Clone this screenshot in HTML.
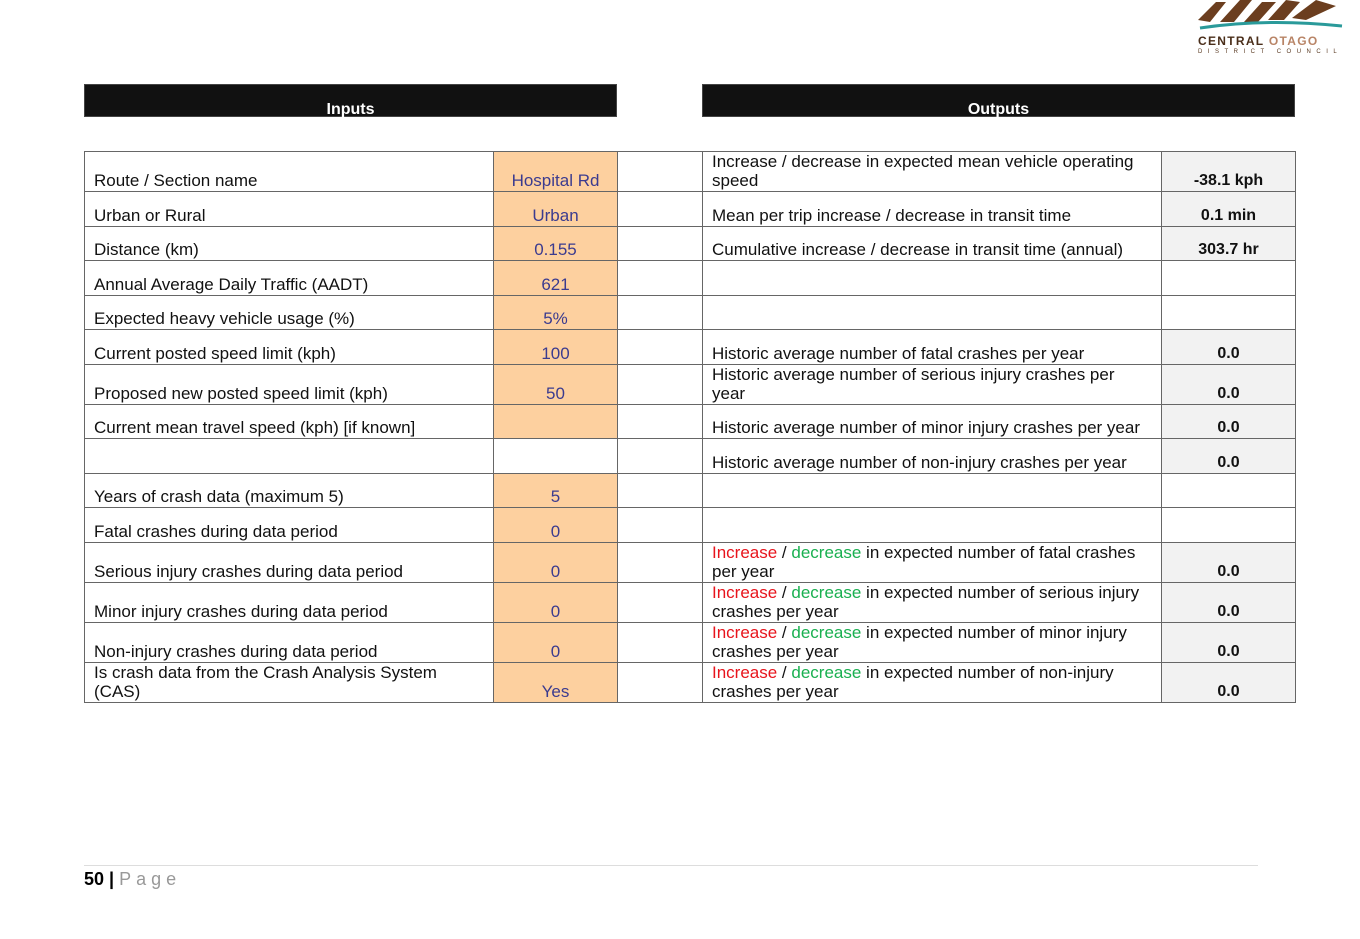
<!DOCTYPE html>
<html><head><meta charset="utf-8"><style>
body{margin:0;width:1360px;height:939px;position:relative;background:#fff;font-family:"Liberation Sans",Arial,sans-serif;overflow:hidden}
.hdr{position:absolute;top:84px;height:33px;background:#111;color:#fff;font-weight:bold;font-size:16px;text-align:center;box-sizing:border-box;border:1px solid #444}
table{position:absolute;left:84px;top:151px;border-collapse:collapse;table-layout:fixed;font-size:17px;color:#111}
td{border:1px solid #666;padding:0 4px 1px 9px;vertical-align:bottom;line-height:19px;box-sizing:border-box;overflow:hidden;white-space:nowrap}
td.o{background:#fdd09f;color:#3b3b8f;text-align:center;padding:0 0 1px 0}
td.v{background:#f2f2f2;text-align:center;font-weight:bold;font-size:16px;padding:0 0 1px 0}
td.w{background:#fff}
.r{color:#e8141c}.g{color:#19b050}
</style></head><body>
<svg style="position:absolute;left:1196px;top:0" width="150" height="56">
<path d="M2 20 L20 2 L30 2 L14 22 Z M24 22 L44 0 L56 0 L38 22 Z M48 22 L66 2 L80 2 L62 22 Z M72 20 L90 0 L104 2 L88 20 Z M96 18 L120 0 L140 6 L110 20 Z" fill="#6b3e1f"/>
<path d="M4 28 Q70 18 146 26" stroke="#2a9a9a" stroke-width="3" fill="none"/>
<text x="2" y="45" font-size="12" font-weight="bold" font-family="Liberation Sans" fill="#4a2e1a" letter-spacing="1.3">CENTRAL <tspan fill="#b88466">OTAGO</tspan></text>
<text x="2" y="53" font-size="6" font-family="Liberation Sans" fill="#5a3a22" letter-spacing="5.5">DISTRICT COUNCIL</text>
</svg>
<div class="hdr" style="left:84px;width:533px;line-height:49px">Inputs</div>
<div class="hdr" style="left:702px;width:593px;line-height:49px">Outputs</div>
<table>
<colgroup><col style="width:409px"><col style="width:124px"><col style="width:85px"><col style="width:459px"><col style="width:134px"></colgroup>
<tr style="height:40px"><td>Route / Section name</td><td class="o">Hospital Rd</td><td></td><td>Increase / decrease in expected mean vehicle operating<br>speed</td><td class="v">-38.1 kph</td></tr>
<tr style="height:35px"><td>Urban or Rural</td><td class="o">Urban</td><td></td><td>Mean per trip increase / decrease in transit time</td><td class="v">0.1 min</td></tr>
<tr style="height:34px"><td>Distance (km)</td><td class="o">0.155</td><td></td><td>Cumulative increase / decrease in transit time (annual)</td><td class="v">303.7 hr</td></tr>
<tr style="height:35px"><td>Annual Average Daily Traffic (AADT)</td><td class="o">621</td><td></td><td></td><td class="w"></td></tr>
<tr style="height:34px"><td>Expected heavy vehicle usage (%)</td><td class="o">5%</td><td></td><td></td><td class="w"></td></tr>
<tr style="height:35px"><td>Current posted speed limit (kph)</td><td class="o">100</td><td></td><td>Historic average number of fatal crashes per year</td><td class="v">0.0</td></tr>
<tr style="height:40px"><td>Proposed new posted speed limit (kph)</td><td class="o">50</td><td></td><td>Historic average number of serious injury crashes per<br>year</td><td class="v">0.0</td></tr>
<tr style="height:34px"><td>Current mean travel speed (kph) [if known]</td><td class="o"></td><td></td><td>Historic average number of minor injury crashes per year</td><td class="v">0.0</td></tr>
<tr style="height:35px"><td></td><td class="w"></td><td></td><td>Historic average number of non-injury crashes per year</td><td class="v">0.0</td></tr>
<tr style="height:34px"><td>Years of crash data (maximum 5)</td><td class="o">5</td><td></td><td></td><td class="w"></td></tr>
<tr style="height:35px"><td>Fatal crashes during data period</td><td class="o">0</td><td></td><td></td><td class="w"></td></tr>
<tr style="height:40px"><td>Serious injury crashes during data period</td><td class="o">0</td><td></td><td><span class="r">Increase</span> / <span class="g">decrease</span> in expected number of fatal crashes<br>per year</td><td class="v">0.0</td></tr>
<tr style="height:40px"><td>Minor injury crashes during data period</td><td class="o">0</td><td></td><td><span class="r">Increase</span> / <span class="g">decrease</span> in expected number of serious injury<br>crashes per year</td><td class="v">0.0</td></tr>
<tr style="height:40px"><td>Non-injury crashes during data period</td><td class="o">0</td><td></td><td><span class="r">Increase</span> / <span class="g">decrease</span> in expected number of minor injury<br>crashes per year</td><td class="v">0.0</td></tr>
<tr style="height:40px"><td>Is crash data from the Crash Analysis System<br>(CAS)</td><td class="o">Yes</td><td></td><td><span class="r">Increase</span> / <span class="g">decrease</span> in expected number of non-injury<br>crashes per year</td><td class="v">0.0</td></tr>
</table>
<div style="position:absolute;left:84px;top:865px;width:1174px;height:1px;background:#ddd"></div>
<div style="position:absolute;left:84px;top:869px;font-size:18px;line-height:20px"><b>50 |</b> <span style="color:#999;letter-spacing:5px">Page</span></div>
</body></html>
